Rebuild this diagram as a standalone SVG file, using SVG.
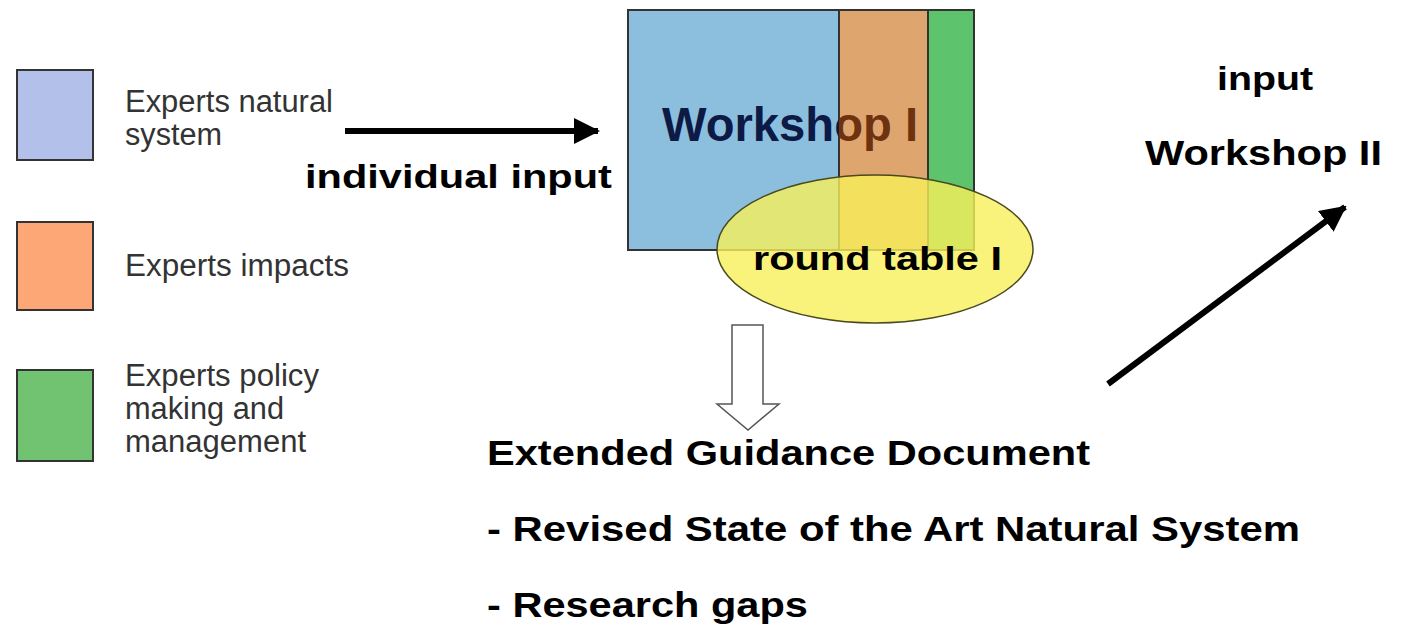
<svg xmlns="http://www.w3.org/2000/svg" width="1404" height="627" viewBox="0 0 1404 627">
<style>
.leg{font-family:"Liberation Sans",Arial,sans-serif;font-size:31px;fill:#333;}
.b{font-family:"Liberation Sans",Arial,sans-serif;font-size:35px;font-weight:bold;fill:#000;}
.box{stroke:#333;stroke-width:2;}
.conn{stroke:#000;stroke-width:6;fill:none;}
</style>
<defs>
<marker id="ah" markerUnits="userSpaceOnUse" markerWidth="26" markerHeight="26" refX="24" refY="13" orient="auto">
<path d="M0,0 L26,13 L0,26 Z" fill="#000"/>
</marker>
<clipPath id="cBlue"><rect x="0" y="0" width="839" height="627"/></clipPath>
<clipPath id="cOrange"><rect x="839" y="0" width="600" height="627"/></clipPath>
</defs>
<rect width="1404" height="627" fill="#fff"/>

<g id="legend-natural">
<rect class="box" x="17" y="70" width="76" height="90" fill="#B3C1EA"/>
<text class="leg" x="125" y="112" textLength="208" lengthAdjust="spacingAndGlyphs">Experts natural</text>
<text class="leg" x="125" y="145" textLength="97" lengthAdjust="spacingAndGlyphs">system</text>
</g>
<g id="legend-impacts">
<rect class="box" x="17" y="222" width="76" height="88" fill="#FDA777"/>
<text class="leg" x="125" y="276" textLength="224" lengthAdjust="spacingAndGlyphs">Experts impacts</text>
</g>
<g id="legend-policy">
<rect class="box" x="17" y="370" width="76" height="91" fill="#71C372"/>
<text class="leg" x="125" y="386" textLength="194" lengthAdjust="spacingAndGlyphs">Experts policy</text>
<text class="leg" x="125" y="419" textLength="159" lengthAdjust="spacingAndGlyphs">making and</text>
<text class="leg" x="125" y="452" textLength="181" lengthAdjust="spacingAndGlyphs">management</text>
</g>

<g id="workshop1">
<rect class="box" x="628" y="10" width="211" height="240" fill="#8CBFDD"/>
<rect class="box" x="839" y="10" width="89" height="240" fill="#DEA66E"/>
<rect class="box" x="928" y="10" width="46" height="240" fill="#5DC46D"/>
<g clip-path="url(#cBlue)">
<text class="b" x="662" y="141" textLength="256" lengthAdjust="spacingAndGlyphs" style="font-size:48px;fill:#0D1A45">Workshop I</text>
</g>
<g clip-path="url(#cOrange)">
<text class="b" x="662" y="141" textLength="256" lengthAdjust="spacingAndGlyphs" style="font-size:48px;fill:#6E3210">Workshop I</text>
</g>
</g>

<g id="roundtable1">
<ellipse cx="875" cy="249" rx="158" ry="74" fill="#F8F05A" fill-opacity="0.8" stroke="#4A4A20" stroke-width="1.5"/>
<g transform="translate(753,270) scale(1.22,1)">
<text class="b" x="0" y="0" textLength="204.1" lengthAdjust="spacingAndGlyphs" style="font-size:34px">round table I</text>
</g>
</g>

<g id="label-individual">
<g transform="translate(305,188) scale(1.22,1)">
<text class="b" x="0" y="0" textLength="251.6" lengthAdjust="spacingAndGlyphs" style="font-size:34px">individual input</text>
</g>
</g>

<g id="workshop2">
<g transform="translate(1217,90) scale(1.19,1)">
<text class="b" x="0" y="0" textLength="80.7" lengthAdjust="spacingAndGlyphs" style="font-size:33px">input</text>
</g>
<g transform="translate(1145,165) scale(1.183,1)">
<text class="b" x="0" y="0" textLength="200.3" lengthAdjust="spacingAndGlyphs">Workshop II</text>
</g>
</g>

<g id="guidance">
<g transform="translate(487,465) scale(1.188,1)">
<text class="b" x="0" y="0" textLength="507.6" lengthAdjust="spacingAndGlyphs">Extended Guidance Document</text>
</g>
<g transform="translate(487,541) scale(1.194,1)">
<text class="b" x="0" y="0" textLength="680.9" lengthAdjust="spacingAndGlyphs">- Revised State of the Art Natural System</text>
</g>
<g transform="translate(487,617) scale(1.187,1)">
<text class="b" x="0" y="0" textLength="270.4" lengthAdjust="spacingAndGlyphs">- Research gaps</text>
</g>
</g>

<g id="connectors">
<line class="conn" x1="345" y1="131" x2="598" y2="131" marker-end="url(#ah)"/>
<line class="conn" x1="1108" y1="384" x2="1345" y2="207" marker-end="url(#ah)"/>
<path d="M732,325 L763,325 L763,404 L779,404 L748,430 L717,404 L732,404 Z" fill="#fff" stroke="#555" stroke-width="1.5"/>
</g>
</svg>
